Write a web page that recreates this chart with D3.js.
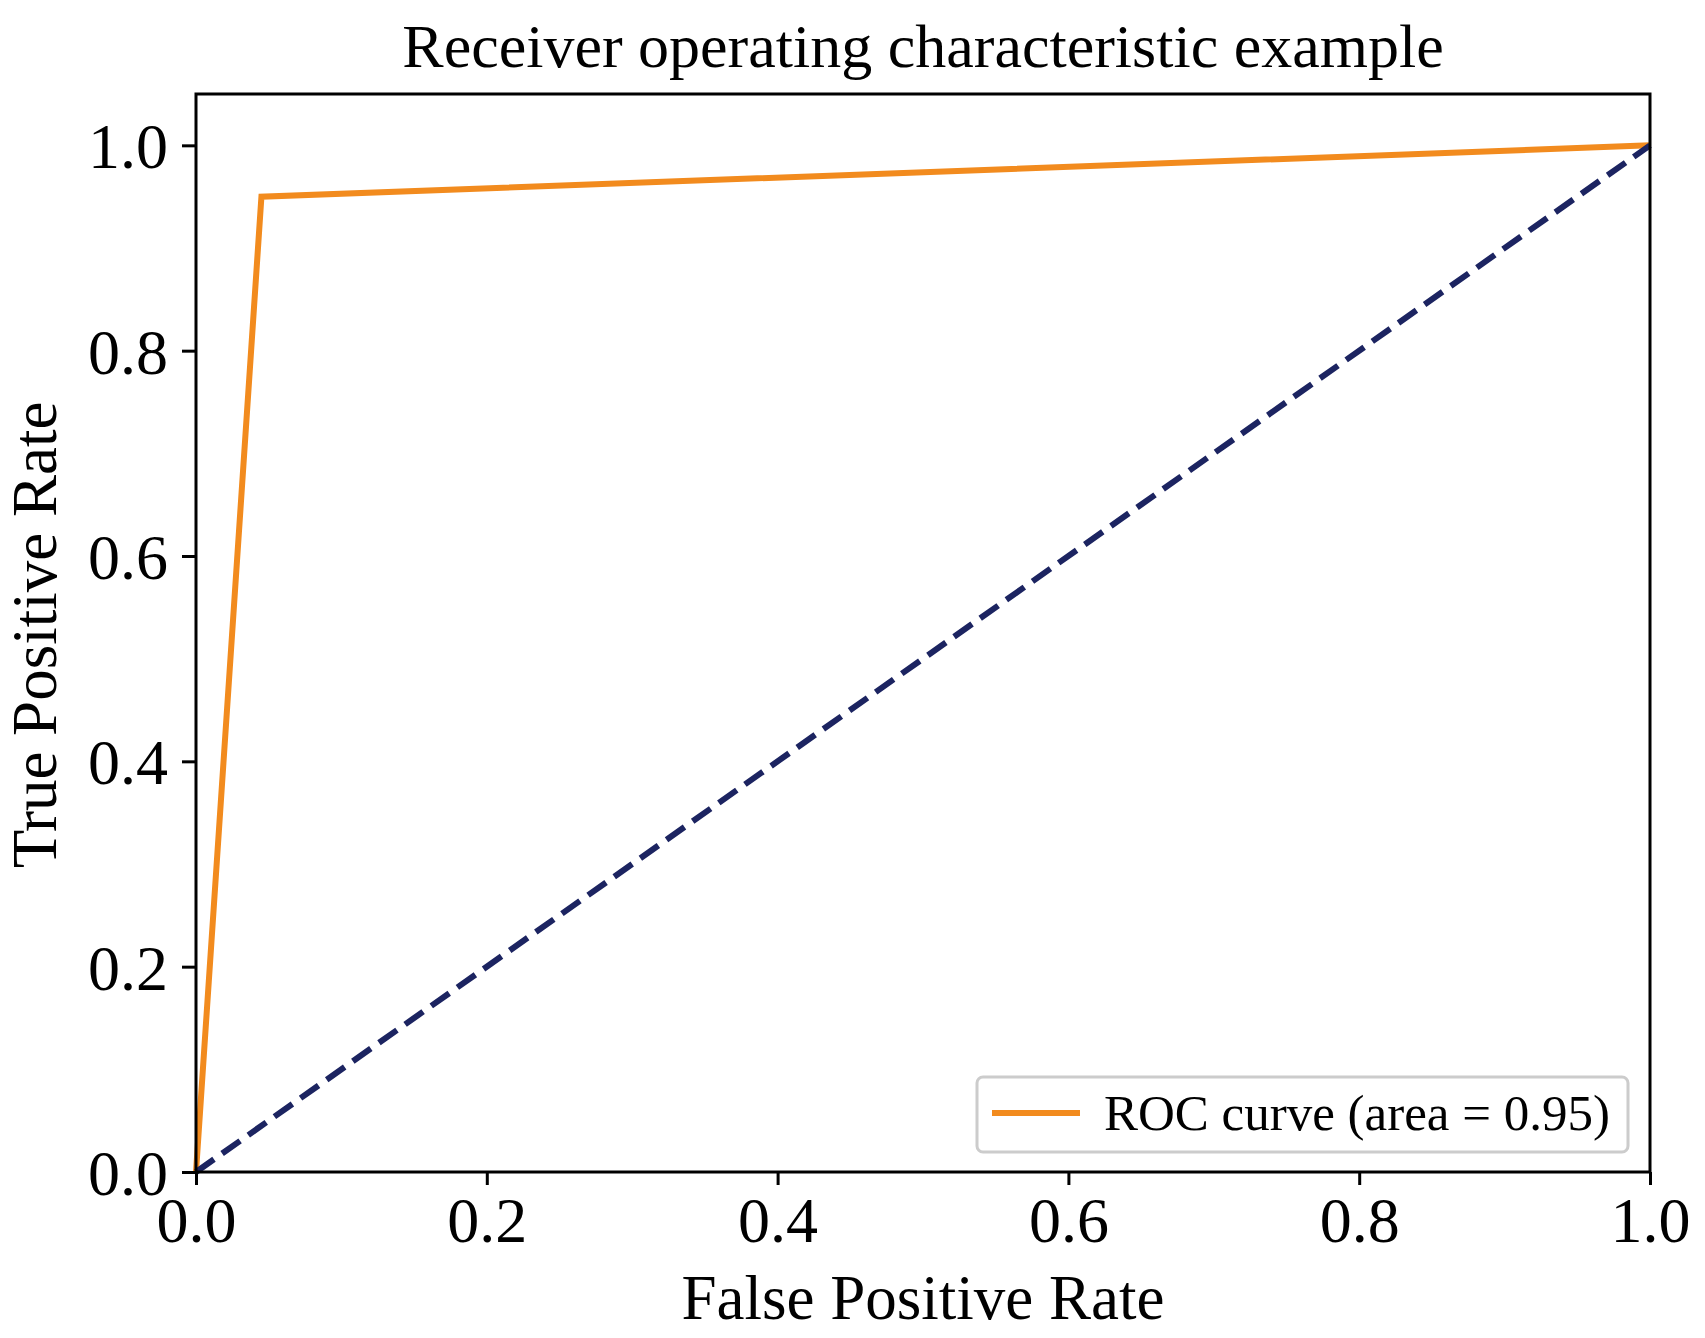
<!DOCTYPE html>
<html>
<head>
<meta charset="utf-8">
<script src="https://cdn.jsdelivr.net/npm/d3@7"></script>
<style>
  body { margin: 0; background: #fff; }
  text { font-family: "Liberation Serif", "Times New Roman", serif; fill: #000; }
  .axis path, .axis line { stroke: #000; stroke-width: 3; }
</style>
</head>
<body>
<svg id="chart" width="1705" height="1338"></svg>
<script>
// ROC points
const fpr = [0, 0.045, 1];
const tpr = [0, 0.95, 1];
// chance line
const chanceX = [0, 1];
const chanceY = [0, 1];
const xTicks = [0, 0.2, 0.4, 0.6, 0.8, 1.0];
const yTicks = [0, 0.2, 0.4, 0.6, 0.8, 1.0];
const legendLabel = "ROC curve (area = 0.95)";

const margin = { top: 94, right: 55, bottom: 166, left: 196 },
  width = 1705 - margin.left - margin.right,
  height = 1338 - margin.top - margin.bottom;

const svg = d3.select("#chart");
const g = svg.append("g")
  .attr("transform", "translate(" + margin.left + "," + margin.top + ")");

const x = d3.scaleLinear().domain([0, 1]).range([0, width]);
const y = d3.scaleLinear().domain([0, 1.05]).range([height, 0]);

const line = d3.line()
  .x(d => x(d[0]))
  .y(d => y(d[1]));

// lines
g.append("path")
  .attr("d", line(d3.zip(fpr, tpr)))
  .attr("fill", "none")
  .attr("stroke", "#f28b1e")
  .attr("stroke-width", 6)
  .attr("stroke-linejoin", "miter");

g.append("path")
  .attr("d", line(d3.zip(chanceX, chanceY)))
  .attr("fill", "none")
  .attr("stroke", "#1c2461")
  .attr("stroke-width", 6)
  .attr("stroke-dasharray", "22,10");

// frame
g.append("rect")
  .attr("width", width)
  .attr("height", height)
  .attr("fill", "none")
  .attr("stroke", "#000")
  .attr("stroke-width", 3);

// axes
const xAxis = g.append("g")
  .attr("class", "axis")
  .attr("transform", "translate(0," + height + ")")
  .call(d3.axisBottom(x).tickValues(xTicks).tickFormat(d3.format(".1f")).tickSize(13).tickPadding(12));

const yAxis = g.append("g")
  .attr("class", "axis")
  .call(d3.axisLeft(y).tickValues(yTicks).tickFormat(d3.format(".1f")).tickSize(14).tickPadding(14));

g.selectAll(".axis .domain").remove();
g.selectAll(".axis text")
  .style("font-family", '"Liberation Serif", "Times New Roman", serif')
  .style("font-size", "64px")
  .attr("fill", "#000");
yAxis.selectAll("text").attr("dy", "0.35em");

// title and labels
svg.append("text")
  .attr("x", margin.left + width / 2)
  .attr("y", 67)
  .attr("text-anchor", "middle")
  .style("font-size", "62px")
  .text("Receiver operating characteristic example");

svg.append("text")
  .attr("x", margin.left + width / 2)
  .attr("y", 1319)
  .attr("text-anchor", "middle")
  .style("font-size", "63px")
  .text("False Positive Rate");

svg.append("text")
  .attr("transform", "translate(56," + 635 + ") rotate(-90)")
  .attr("text-anchor", "middle")
  .style("font-size", "63px")
  .text("True Positive Rate");

// legend
const leg = g.append("g")
  .attr("transform", "translate(" + (977 - margin.left) + "," + (1077 - margin.top) + ")");
leg.append("rect")
  .attr("width", 651)
  .attr("height", 75)
  .attr("rx", 6)
  .attr("fill", "#fff")
  .attr("fill-opacity", 0.8)
  .attr("stroke", "#cccccc")
  .attr("stroke-width", 3);
leg.append("line")
  .attr("x1", 15).attr("x2", 103)
  .attr("y1", 36).attr("y2", 36)
  .attr("stroke", "#f28b1e")
  .attr("stroke-width", 6);
leg.append("text")
  .attr("x", 127)
  .attr("y", 53)
  .style("font-size", "51px")
  .text(legendLabel);
</script>
</body>
</html>
